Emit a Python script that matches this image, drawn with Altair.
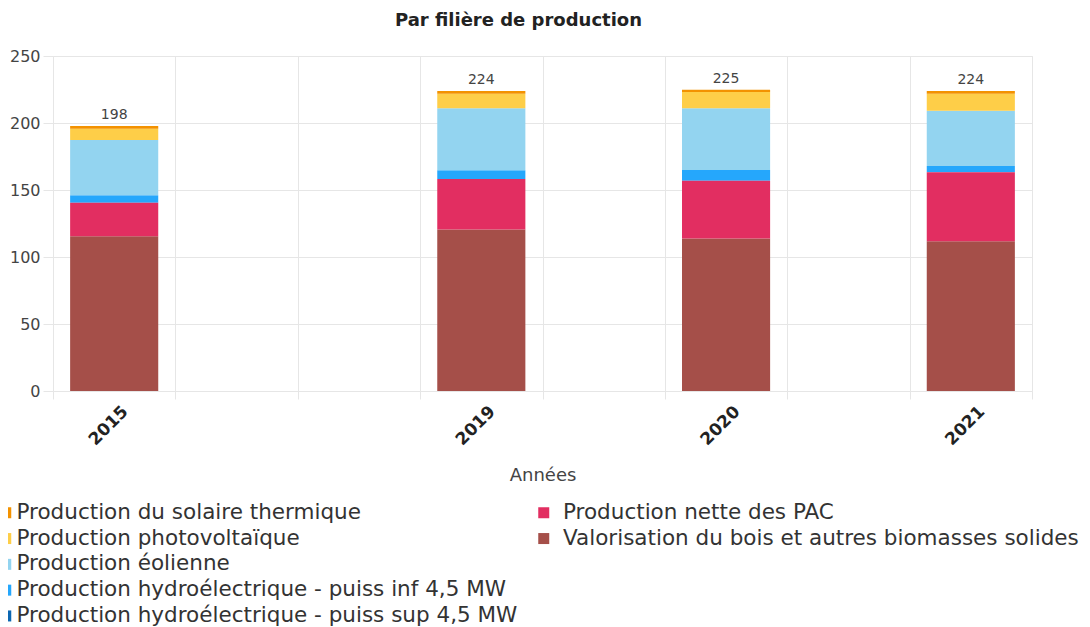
import altair as alt
import pandas as pd

years = ["2015", "2019", "2020", "2021"]
# empty slots on the year axis (the source axis leaves gaps)
x_slots = ["2015", " ", "  ", "2019", "   ", "2020", "    ", "2021"]

categories = [
    "Valorisation du bois et autres biomasses solides",
    "Production nette des PAC",
    "Production hydroélectrique - puiss sup 4,5 MW",
    "Production hydroélectrique - puiss inf 4,5 MW",
    "Production éolienne",
    "Production photovoltaïque",
    "Production du solaire thermique",
]
bois = [115.5, 120.5, 113.8, 111.7]
pac = [25.0, 37.7, 43.1, 51.5]
hydro_sup = [0.0, 0.0, 0.0, 0.0]
hydro_inf = [5.5, 6.6, 8.0, 4.7]
eolien = [41.3, 46.3, 46.1, 41.3]
photovoltaique = [8.5, 10.8, 12.1, 12.7]
solaire_thermique = [2.0, 2.0, 1.8, 2.0]

colors = {
    "Production du solaire thermique": "#F39200",
    "Production photovoltaïque": "#FECE48",
    "Production éolienne": "#93D4F0",
    "Production hydroélectrique - puiss inf 4,5 MW": "#25A7FC",
    "Production hydroélectrique - puiss sup 4,5 MW": "#0B67B2",
    "Production nette des PAC": "#E22E61",
    "Valorisation du bois et autres biomasses solides": "#A54F49",
}

series = [bois, pac, hydro_sup, hydro_inf, eolien, photovoltaique, solaire_thermique]
rows = []
for ci, (cat, vals) in enumerate(zip(categories, series)):
    for y, v in zip(years, vals):
        rows.append({"year": y, "cat": cat, "value": v, "order": ci})
df = pd.DataFrame(rows)

legend1 = [
    "Production du solaire thermique",
    "Production photovoltaïque",
    "Production éolienne",
    "Production hydroélectrique - puiss inf 4,5 MW",
    "Production hydroélectrique - puiss sup 4,5 MW",
]
legend2 = [
    "Production nette des PAC",
    "Valorisation du bois et autres biomasses solides",
]

FONT = "DejaVu Sans"
GRID = "#e6e6e6"

x_enc = alt.X(
    "year:N",
    scale=alt.Scale(domain=x_slots, paddingInner=0, paddingOuter=0),
    sort=x_slots,
    axis=alt.Axis(
        title="Années",
        tickBand="extent",
        grid=True,
        gridColor=GRID,
        domain=False,
        ticks=True,
        tickColor=GRID,
        tickSize=8,
        labelAngle=-45,
        labelFont=FONT,
        labelFontWeight="bold",
        labelFontSize=17,
        labelColor="#222222",
        labelPadding=4,
        labelOffset=5,
        titleFont=FONT,
        titleFontSize=18,
        titleFontWeight="normal",
        titleColor="#444444",
        titlePadding=19,
    ),
)
y_scale = alt.Scale(domain=[0, 250], nice=False)
y_axis = alt.Axis(
    title=None,
    values=[0, 50, 100, 150, 200, 250],
    grid=True,
    gridColor=GRID,
    domain=False,
    tickColor=GRID,
    tickSize=10,
    labelFont=FONT,
    labelFontSize=16,
    labelColor="#444444",
    labelPadding=3,
)

def legend(x, offset):
    return alt.Legend(
        title=None,
        orient="none",
        legendX=x,
        legendY=446,
        direction="vertical",
        symbolType="square",
        symbolSize=121,
        symbolStrokeWidth=0,
        symbolOpacity=1,
        labelFont=FONT,
        labelFontSize=21.5,
        labelColor="#333333",
        labelOffset=offset,
        labelLimit=700,
        rowPadding=2.8,
        padding=0,
    )

base = alt.Chart(df).transform_stack(
    stack="value", groupby=["year"], as_=["y0", "y1"], sort=[alt.SortField("order")]
)

bars1 = base.transform_filter(
    alt.FieldOneOfPredicate(field="cat", oneOf=legend1)
).mark_bar(width=alt.RelativeBandSize(0.72)).encode(
    x=x_enc,
    y=alt.Y("y0:Q", scale=y_scale, axis=y_axis),
    y2="y1:Q",
    color=alt.Color(
        "cat:N",
        scale=alt.Scale(domain=legend1, range=[colors[c] for c in legend1]),
        legend=legend(-58, 0),
    ),
)

bars2 = base.transform_filter(
    alt.FieldOneOfPredicate(field="cat", oneOf=legend2)
).mark_bar(width=alt.RelativeBandSize(0.72)).encode(
    x=x_enc,
    y=alt.Y("y0:Q", scale=y_scale, axis=y_axis),
    y2="y1:Q",
    fill=alt.Fill(
        "cat:N",
        scale=alt.Scale(domain=legend2, range=[colors[c] for c in legend2]),
        legend=legend(480, 8.5),
    ),
)

totals = alt.Chart(df).transform_aggregate(
    total="sum(value)", groupby=["year"]
).mark_text(
    font=FONT, fontSize=14, color="#444444", baseline="alphabetic", dy=-7
).encode(
    x=x_enc,
    y=alt.Y("total:Q", scale=y_scale, axis=y_axis),
    text=alt.Text("total:Q", format=".0f"),
)

chart = alt.layer(bars1, bars2, totals).resolve_scale(color="independent").properties(
    width=979,
    height=335,
    padding={"left": 45, "top": 48, "right": 50, "bottom": 236},
    autosize=alt.AutoSizeParams(type="none"),
    title=alt.Title(
        "Par filière de production",
        font=FONT,
        fontSize=18,
        fontWeight="bold",
        color="#222222",
        anchor="middle",
        dx=-24,
        offset=18,
    ),
).configure_view(stroke=GRID)

chart.save("out.html", embed_options={"renderer": "svg", "actions": False})
